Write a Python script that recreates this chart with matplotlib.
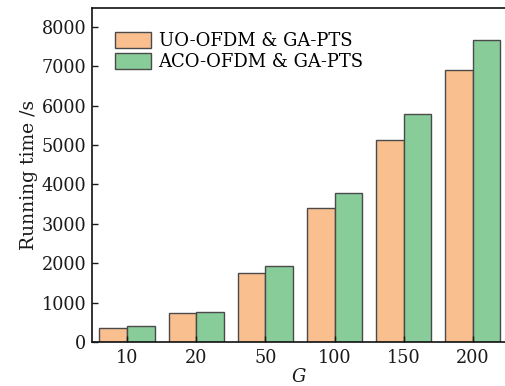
import matplotlib
matplotlib.use("Agg")
import matplotlib.pyplot as plt
import numpy as np

categories = ["10", "20", "50", "100", "150", "200"]
uo_ofdm = [360, 725, 1745, 3410, 5130, 6895]
aco_ofdm = [405, 770, 1930, 3790, 5790, 7680]
series_labels = ["UO-OFDM & GA-PTS", "ACO-OFDM & GA-PTS"]
yticks = [0, 1000, 2000, 3000, 4000, 5000, 6000, 7000, 8000]

plt.rcParams['font.family'] = ['DejaVu Serif']
W, H = 506, 386
fig = plt.figure(figsize=(W / 100, H / 100), dpi=100)
ax = fig.add_axes([92 / W, (H - 342) / H, (506 - 92) / W, (342 - 8) / H])

x = np.arange(len(categories))
bw = 0.4
ax.bar(x - bw / 2, uo_ofdm, bw, color="#F9BF8F", edgecolor="#4a4a4a", linewidth=1.0, label=series_labels[0])
ax.bar(x + bw / 2, aco_ofdm, bw, color="#88CC99", edgecolor="#4a4a4a", linewidth=1.0, label=series_labels[1])

ax.set_xlim(-0.507, 5.48)
ax.set_ylim(0, 8480)
ax.set_xticks(x)
ax.set_xticklabels(categories)
ax.set_yticks(yticks)
ax.tick_params(direction="in", length=4, width=1, labelsize=12.7, colors="#1a1a1a", pad=4)
ax.tick_params(axis="x", pad=5)
ax.spines["right"].set_visible(False)
for s in ["left", "bottom", "top"]:
    ax.spines[s].set_linewidth(1.2)
    ax.spines[s].set_color("#111111")

ax.set_ylabel("Running time /s", fontsize=13.5, labelpad=3, color="#1a1a1a")
ax.set_xlabel("G", fontsize=13, fontstyle="italic", labelpad=1, color="#1a1a1a")

ax.legend(loc="upper left", bbox_to_anchor=(0.03, 0.96), frameon=False, fontsize=13,
          handlelength=2.0, handleheight=1.0, labelspacing=0.15, handletextpad=0.4,
          borderaxespad=0.2)

fig.savefig("out.png", dpi=100)
